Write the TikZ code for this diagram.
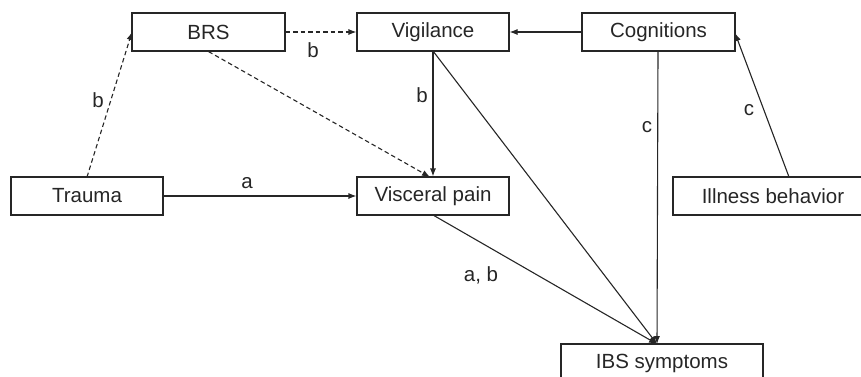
\documentclass[tikz,border=0pt]{standalone}
\usepackage{fontspec}
\setmainfont{Liberation Sans}
\usetikzlibrary{arrows.meta}
\begin{document}
\begin{tikzpicture}[x=1pt,y=-1pt,
  box/.style={draw=black!85,line width=1.1pt,minimum height=38pt,inner sep=0pt,
    font=\fontsize{20.5}{24}\selectfont,text=black!85},
  conn/.style={draw=black!85,line width=1.1pt,-{Latex[length=8pt,width=6pt]}},
  dconn/.style={conn,dash pattern=on 4.5pt off 3pt},
  lab/.style={font=\fontsize{20.5}{24}\selectfont,text=black!85,inner sep=0pt}]
\useasboundingbox (0,0) rectangle (861,376);
\begin{scope}
\clip (0,0) rectangle (861,376);
\node[box,minimum width=153pt] (brs) at (208.5,32) {BRS};
\node[box,minimum width=152pt] (vig) at (433,32) {Vigilance};
\node[box,minimum width=153pt] (cog) at (658.5,32) {Cognitions};
\node[box,minimum width=152pt] (tra) at (87,196) {Trauma};
\node[box,minimum width=152pt] (vis) at (433,196) {Visceral pain};
\node[box,minimum width=200pt] (ill) at (773,196) {Illness behavior};
\node[box,minimum width=202pt] (ibs) at (662,363) {IBS symptoms};
\end{scope}
\coordinate (ibsin) at (657,344);
\coordinate (visin) at (430,177);
\coordinate (trout) at (87,177);
\coordinate (illout) at (789,177);
\coordinate (cogin) at (735,33);
\coordinate (brsin) at (132,32);
\coordinate (visout) at (433,215);
\coordinate (cogout) at (658,51);
\coordinate (vigout) at (433,51);
\draw[dconn] (trout) -- (brsin);
\draw[dconn] (brs.east) -- (vig.west);
\draw[dconn] (brs.south) -- (visin);
\draw[conn] (cog.west) -- (vig.east);
\draw[conn] (vigout) -- (vis.north);
\draw[conn] (vigout) -- (ibsin);
\draw[conn] (visout) -- (ibsin);
\draw[conn] (cogout) -- (ibsin);
\draw[conn] (illout) -- (cogin);
\draw[conn] (tra.east) -- (vis.west);
\node[lab] (lb1) at (98,100) {b};
\node[lab] (lb2) at (313,50) {b};
\node[lab] (lb3) at (422,95) {b};
\node[lab] (la1) at (247,183) {a};
\node[lab] (lab1) at (481,275) {a, b};
\node[lab] (lc1) at (647,127) {c};
\node[lab] (lc2) at (749,110) {c};
\end{tikzpicture}
\end{document}
